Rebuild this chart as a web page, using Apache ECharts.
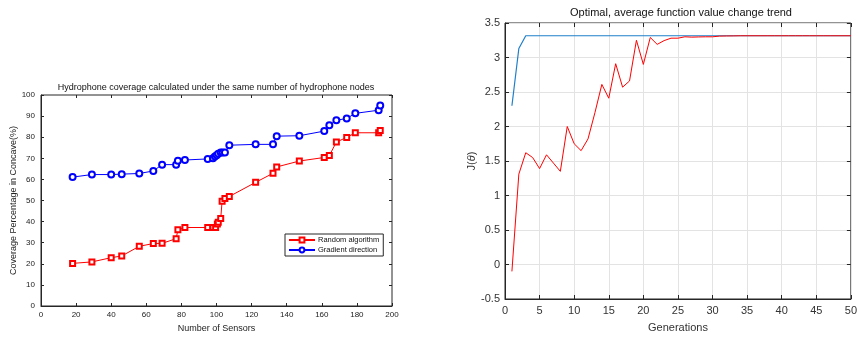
<!DOCTYPE html>
<html>
<head>
<meta charset="utf-8">
<script src="https://cdn.jsdelivr.net/npm/echarts@6/dist/echarts.min.js"></script>
<style>html,body{margin:0;padding:0;background:#fff}#c{width:860px;height:338px}</style>
</head>
<body>
<div id="c"></div>
<script>
// Left chart data
const randomX = [18,29,40,46,56,64,69,77,78,82,95,98,99.5,100.5,101,102.4,103.2,104.8,107.3,122.3,132.2,134.3,147.2,161.4,164.3,168.3,174.2,179.1,192.4,193.3];
const randomY = [20.2,20.9,22.9,23.7,28.3,29.6,29.7,31.9,36.1,37.2,37.2,37.2,37.2,38.9,39.7,41.5,49.7,50.9,51.9,58.6,62.9,65.9,68.7,70.4,71.3,77.7,79.9,82.1,82.1,83.2];
const gradientX = [18,29,40,46,56,64,69,77,78,82,95,98,99.1,100.1,101,102.4,103.5,104.8,107.3,122.3,132.2,134.3,147.2,161.4,164.3,168.3,174.2,179.1,192.4,193.3];
const gradientY = [61.1,62.3,62.3,62.5,62.8,64.0,67.0,67.0,68.8,69.2,69.7,70.0,70.9,71.5,72.1,72.7,72.8,72.8,76.2,76.6,76.6,80.5,80.7,82.9,85.7,88.0,88.9,91.3,92.8,95.0];
// Right chart data
const generations = [1,2,3,4,5,6,7,8,9,10,11,12,13,14,15,16,17,18,19,20,21,22,23,24,25,26,27,28,29,30,31,32,33,34,35,36,37,38,39,40,41,42,43,44,45,46,47,48,49,50];
const averageJ = [-0.1,1.31,1.62,1.55,1.39,1.59,1.47,1.35,2.0,1.75,1.65,1.82,2.2,2.61,2.41,2.91,2.57,2.66,3.25,2.9,3.29,3.19,3.245,3.28,3.28,3.3,3.295,3.298,3.3,3.3,3.31,3.312,3.313,3.315,3.315,3.315,3.315,3.315,3.315,3.315,3.315,3.315,3.315,3.315,3.315,3.315,3.315,3.315,3.315,3.315];
const optimalJ = [2.3,3.13,3.315,3.315,3.315,3.315,3.315,3.315,3.315,3.315,3.315,3.315,3.315,3.315,3.315,3.315,3.315,3.315,3.315,3.315,3.315,3.315,3.315,3.315,3.315,3.315,3.315,3.315,3.315,3.315,3.315,3.315,3.315,3.315,3.315,3.315,3.315,3.315,3.315,3.315,3.315,3.315,3.315,3.315,3.315,3.315,3.315,3.315,3.315,3.315];

const FONT = '"Liberation Sans", Arial, Helvetica, sans-serif';
const AX = '#262626';

function pairs(xs, ys){ return xs.map((x,i)=>[x, ys[i]]); }

const chart = echarts.init(document.getElementById('c'));
function mainAxis(extra){
  return Object.assign({
    type:'value',
    axisLine:{show:true,onZero:false,lineStyle:{color:AX,width:1}},
    axisTick:{show:true,inside:true,length:3,lineStyle:{color:AX}},
    splitLine:{show:false}
  }, extra);
}
function boxAxis(extra){
  return Object.assign({
    type:'value',
    axisLine:{show:false,onZero:false},
    axisTick:{show:true,inside:true,length:3,lineStyle:{color:AX}},
    axisLabel:{show:false},
    splitLine:{show:false}
  }, extra);
}
const option = {
  animation:false,
  textStyle:{fontFamily:FONT},
  title:[
    {text:'Hydrophone coverage calculated under the same number of hydrophone nodes',
     left:216, top:83, textAlign:'center', padding:0,
     textStyle:{fontSize:9,fontWeight:'normal',color:'#111',fontFamily:FONT}},
    {text:'Optimal, average function value change trend',
     left:681, top:7, textAlign:'center', padding:0,
     textStyle:{fontSize:11,fontWeight:'normal',color:'#111',fontFamily:FONT}}
  ],
  legend:{
    data:['Random algorithm','Gradient direction'],
    orient:'vertical', left:285, top:234,
    backgroundColor:'#fff', borderColor:AX, borderWidth:1, borderRadius:0,
    padding:[2,4,2,3], itemGap:2, itemWidth:26, itemHeight:6,
    textStyle:{fontSize:7.5,color:'#111',fontFamily:FONT,padding:[0,0,0,-2]}
  },
  grid:[
    {left:41, right:468, top:95, bottom:29, show:true, borderColor:AX, borderWidth:1, backgroundColor:'#fff'},
    {left:505, right:3, top:23, bottom:38, show:true, borderColor:AX, borderWidth:1, backgroundColor:'#fff'}
  ],
  xAxis:[
    mainAxis({gridIndex:0,min:0,max:200,interval:20,position:'bottom',
      axisLabel:{fontSize:8,color:'#222',margin:5},
      name:'Number of Sensors',nameLocation:'middle',nameGap:18,
      nameTextStyle:{fontSize:9,color:'#222'}}),
    boxAxis({gridIndex:0,min:0,max:200,interval:20,position:'top'}),
    mainAxis({gridIndex:1,min:0,max:50,interval:5,position:'bottom',
      axisTick:{show:true,inside:true,length:4,lineStyle:{color:AX}},
      axisLabel:{fontSize:11,color:'#333',margin:6},
      splitLine:{show:true,lineStyle:{color:'#e3e3e3',width:1}},
      name:'Generations',nameLocation:'middle',nameGap:23,
      nameTextStyle:{fontSize:11,color:'#333'}}),
    boxAxis({gridIndex:1,min:0,max:50,interval:5,position:'top',
      axisTick:{show:true,inside:true,length:4,lineStyle:{color:AX}}})
  ],
  yAxis:[
    mainAxis({gridIndex:0,min:0,max:100,interval:10,position:'left',
      axisLabel:{fontSize:8,color:'#222',margin:6},
      name:'Coverage Percentage in Concave(%)',nameLocation:'middle',nameGap:19,
      nameTextStyle:{fontSize:9,color:'#222'}}),
    boxAxis({gridIndex:0,min:0,max:100,interval:10,position:'right'}),
    mainAxis({gridIndex:1,min:-0.5,max:3.5,interval:0.5,position:'left',
      axisTick:{show:true,inside:true,length:4,lineStyle:{color:AX}},
      axisLabel:{fontSize:11,color:'#333',margin:5},
      splitLine:{show:true,lineStyle:{color:'#e3e3e3',width:1}},
      name:'J({i|θ})',nameLocation:'middle',nameGap:27,
      nameTextStyle:{fontSize:11,color:'#333',rich:{i:{fontSize:11,fontStyle:'italic',color:'#333'}}}}),
    boxAxis({gridIndex:1,min:-0.5,max:3.5,interval:0.5,position:'right',
      axisTick:{show:true,inside:true,length:4,lineStyle:{color:AX}}})
  ],
  series:[
    {name:'Random algorithm',type:'line',xAxisIndex:0,yAxisIndex:0,
     data:pairs(randomX,randomY),symbol:'emptyRect',symbolSize:5,
     lineStyle:{color:'#ff0000',width:1},itemStyle:{color:'#ff0000',borderColor:'#ff0000',borderWidth:0.8}},
    {name:'Gradient direction',type:'line',xAxisIndex:0,yAxisIndex:0,
     data:pairs(gradientX,gradientY),symbol:'emptyCircle',symbolSize:6,
     lineStyle:{color:'#0000ff',width:1},itemStyle:{color:'#0000ff',borderColor:'#0000ff',borderWidth:0.8}},
    {name:'optimal',type:'line',xAxisIndex:2,yAxisIndex:2,
     data:pairs(generations,optimalJ),showSymbol:false,symbol:'none',
     lineStyle:{color:'#1f7fc9',width:1.2}},
    {name:'average',type:'line',xAxisIndex:2,yAxisIndex:2,
     data:pairs(generations,averageJ),showSymbol:false,symbol:'none',
     lineStyle:{color:'#ff0000',width:1}}
  ]
};
chart.setOption(option);
</script>
</body>
</html>
